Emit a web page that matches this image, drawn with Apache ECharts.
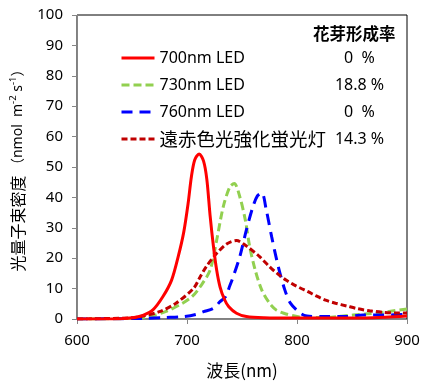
<!DOCTYPE html>
<html><head><meta charset="utf-8">
<script src="https://cdn.jsdelivr.net/npm/echarts@6/dist/echarts.min.js"></script>
<style>html,body{margin:0;padding:0;background:#fff}#c{width:432px;height:387px}</style>
</head><body><div id="c"></div>
<script>
const seriesNames = ['700nm LED', '730nm LED', '760nm LED', '遠赤色光強化蛍光灯'];
const rates = ['0  %', '18.8 %', '0  %', '14.3 %'];
const xTicks = [600, 700, 800, 900];

const redWl  = [600,640,652,660,669,678,686,692,697,701,704,707,711,715,718,721,724,727,730,734,738,745,754,770,800,850,880,900];
const redVal = [0,0.1,0.5,1.2,3,7.3,12.8,20.5,28.5,38,46.8,52.3,54.3,52,46,34,24,16,10.6,6.5,4,1.9,0.8,0.4,0.3,0.3,0.6,1];

const greenWl  = [600,650,666,681,696,705,712,721,727,733,739,743,748,753,757,762,768,775,781,788,800,812,824,840,851,864,876,888,900];
const greenVal = [0,0.2,0.8,2.5,5.2,7.5,10.6,16.1,26,37,43.5,44.6,40.2,32.6,23.8,16.1,9.5,5.2,3,1.9,0.8,0.5,0.5,0.9,1.3,1.7,2.1,2.7,3.3];

const blueWl  = [600,660,680,697,708,715,724,730,735,739,742,748,754,760,764,768,772,777,783,789,794,803,809,824,845,860,879,900];
const blueVal = [0,0.2,0.5,0.8,1.5,2.4,3.5,5.7,7.3,11,13.9,20.5,29.3,37,40.5,41.5,36,27,17.2,9.5,5.2,1.9,1,0.8,0.8,1.3,1.3,1.6];

const flWl  = [600,650,660,675,690,706,712,718,727,736,745,754,766,775,782,790,797,803,810,818,826,835,845,855,866,878,890,900];
const flVal = [0,0.4,1,2.4,5.2,10.1,13.9,17.5,21.6,24.7,25.8,24,20.5,17.2,15,12.8,11.3,10.2,9,7.5,6.2,5.2,4.3,3.4,2.7,2.2,2,2];

const pairs = (w, v) => w.map((x, i) => [x, v[i]]);

const FONT = '"Noto Sans", "Noto Sans CJK JP", sans-serif';
const CJK = '"Noto Sans CJK JP", "Noto Sans", sans-serif';

const chart = echarts.init(document.getElementById('c'), null, {renderer: 'canvas'});
const mk = (name, data, color, type, z) => ({
  name, type: 'line', data, smooth: 0.3, symbol: 'none', showSymbol: false, z,
  lineStyle: {color, width: 3, type, cap: 'butt'},
  itemStyle: {color}
});
chart.setOption({
  animation: false,
  backgroundColor: '#fff',
  textStyle: {fontFamily: FONT},
  title: {
    text: '花芽形成率', left: 308, top: 20,
    textStyle: {fontFamily: CJK, fontSize: 16.5, fontWeight: 'bold', color: '#000'}
  },
  grid: {left: 77, right: 25, top: 15, bottom: 68, show: true, borderColor: '#000', borderWidth: 1},
  legend: {
    orient: 'vertical', left: 115, top: 43, itemWidth: 33, itemHeight: 14, itemGap: 7,
    data: seriesNames,
    itemStyle: {opacity: 0},
    lineStyle: {width: 3},
    formatter: function (name) {
      const i = seriesNames.indexOf(name);
      const st = i === 3 ? 'c' : 'n';
      return '{' + st + '|' + name + '}{p|' + rates[i] + '}';
    },
    textStyle: {
      color: '#000', lineHeight: 20, height: 20,
      rich: {
        n: {fontFamily: FONT, fontSize: 16, width: 172, height: 20, lineHeight: 20, color: '#000'},
        c: {fontFamily: CJK, fontSize: 18.5, width: 172, height: 20, lineHeight: 20, color: '#000'},
        p: {fontFamily: FONT, fontSize: 16, width: 56, height: 20, align: 'center', lineHeight: 20, color: '#000'}
      }
    }
  },
  xAxis: {
    type: 'value', min: 600, max: 900, interval: 100,
    name: '波長(nm)', nameLocation: 'middle', nameGap: 43,
    nameTextStyle: {fontFamily: CJK, fontSize: 17, color: '#000'},
    axisLine: {show: true, onZero: false, lineStyle: {color: '#868686', width: 1}},
    axisTick: {show: true, inside: false, length: 5, lineStyle: {color: '#868686'}},
    axisLabel: {margin: 14, fontSize: 15, color: '#000', fontFamily: FONT,
      formatter: v => xTicks.includes(v) ? String(v) : ''},
    splitLine: {show: false}
  },
  yAxis: {
    type: 'value', min: 0, max: 100, interval: 10,
    name: '{c|光量子束密度} {s|（nmol  m}{sup|-2}{s| s}{sup|-1}{s|）}',
    nameLocation: 'middle', nameGap: 46, nameRotate: 90,
    nameTextStyle: {fontFamily: CJK, fontSize: 15, color: '#000',
      rich: {
        c: {fontFamily: CJK, fontSize: 16, color: '#000', lineHeight: 20},
        s: {fontFamily: FONT, fontSize: 14, color: '#000', lineHeight: 20},
        sup: {fontFamily: FONT, fontSize: 9.5, color: '#000', verticalAlign: 'top', lineHeight: 20}
      }
    },
    axisLine: {show: true, lineStyle: {color: '#868686', width: 1}},
    axisTick: {show: true, inside: false, length: 5, lineStyle: {color: '#868686'}},
    axisLabel: {margin: 14, fontSize: 15, color: '#000', fontFamily: FONT},
    splitLine: {show: false}
  },
  series: [
    mk(seriesNames[0], pairs(redWl, redVal), '#FF0000', 'solid', 4),
    mk(seriesNames[1], pairs(greenWl, greenVal), '#92D050', [8, 4], 3),
    mk(seriesNames[2], pairs(blueWl, blueVal), '#0000FF', [11, 7], 3),
    mk(seriesNames[3], pairs(flWl, flVal), '#C00000', [6, 3], 3)
  ]
});
</script></body></html>
